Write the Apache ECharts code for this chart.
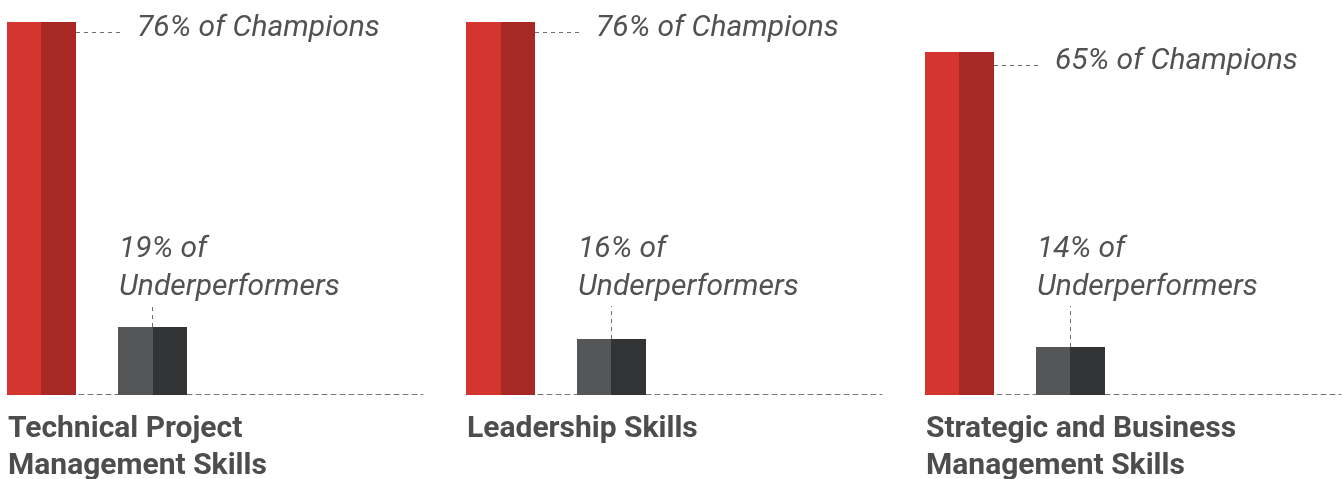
<!DOCTYPE html>
<html>
<head>
<meta charset="utf-8">
<script src="https://cdn.jsdelivr.net/npm/echarts@6/dist/echarts.min.js"></script>
<style>
  html, body { margin: 0; padding: 0; background: #ffffff; }
  #chart { width: 1343px; height: 479px; }
</style>
</head>
<body>
<div id="chart"></div>
<script>
// ---- data ----
const skills = ['Technical Project\nManagement Skills', 'Leadership Skills', 'Strategic and Business\nManagement Skills'];
const groups = ['Champions', 'Underperformers'];
const champions = [76, 76, 65];
const underperformers = [19, 16, 14];

// ---- layout (pixels / axis ranges) ----
const panelLeft = [7, 466, 925];       // left edge of each panel
const barGridTop = [22, 22, 52];
const yMin = [6.3, 5.4, 5.7];
const champLabelDy = [-1, -1, 2];
const baselineY = 394;
const BAR_W = 69, BAR_GAP = 42;

const RED = { type: 'linear', x: 0, y: 0, x2: 1, y2: 0, colorStops: [
  { offset: 0, color: '#d4352f' }, { offset: 0.5, color: '#d4352f' },
  { offset: 0.5, color: '#a72825' }, { offset: 1, color: '#a72825' }] };
const GRAY = { type: 'linear', x: 0, y: 0, x2: 1, y2: 0, colorStops: [
  { offset: 0, color: '#555658' }, { offset: 0.5, color: '#555658' },
  { offset: 0.5, color: '#323335' }, { offset: 1, color: '#323335' }] };
const LEADER = { color: '#6e6e6e', width: 1, type: [4, 4] };
const FONT = 'Roboto, "Noto Sans", sans-serif';
const LABEL_FONT = { fontFamily: FONT, fontStyle: 'italic', fontSize: 30, lineHeight: 38, color: '#525252' };

const grid = [], xAxis = [], yAxis = [], series = [], title = [];

skills.forEach((name, i) => {
  const left = panelLeft[i];
  grid.push({ left: left, width: BAR_W * 2 + BAR_GAP, top: barGridTop[i], bottom: 479 - baselineY - 1 });
  xAxis.push({ gridIndex: i, type: 'category', data: [name], show: false });
  yAxis.push({ gridIndex: i, type: 'value', min: yMin[i], max: 'dataMax', show: false });

  // Champions bar with horizontal leader to the right
  series.push({
    name: groups[0],
    type: 'bar',
    xAxisIndex: i, yAxisIndex: i,
    barWidth: BAR_W, barGap: (BAR_GAP / BAR_W * 100) + '%',
    animation: false,
    itemStyle: { color: RED },
    data: [champions[i]],
    label: Object.assign({
      show: true,
      formatter: '{c}% of ' + groups[0],
      padding: [0, 0, 9, 17],
      backgroundColor: 'transparent'
    }, LABEL_FONT),
    labelLine: { show: true, lineStyle: LEADER },
    labelLayout: function (p) {
      const r = p.rect;
      return { x: r.x + r.width + 44, y: r.y - 12 + champLabelDy[i], align: 'left', verticalAlign: 'top' };
    }
  });

  // Underperformers bar with vertical leader up to its label
  series.push({
    name: groups[1],
    type: 'bar',
    xAxisIndex: i, yAxisIndex: i,
    barWidth: BAR_W, barGap: (BAR_GAP / BAR_W * 100) + '%',
    animation: false,
    itemStyle: { color: GRAY },
    data: [underperformers[i]],
    label: Object.assign({
      show: true,
      formatter: '{c}% of\n' + groups[1],
      // transparent box symmetric around the bar centre, so the leader is vertical
      width: 240,
      padding: [0, 0, 0, 173],
      backgroundColor: 'transparent'
    }, LABEL_FONT),
    labelLine: { show: true, lineStyle: LEADER },
    labelLayout: function (p) {
      const r = p.rect;
      return { x: r.x + 1 - 173, y: 230, align: 'left', verticalAlign: 'top' };
    }
  });

  title.push({
    text: name,
    left: left + 1, top: 411, padding: 0,
    textStyle: { fontFamily: FONT, fontWeight: 'bold', fontSize: 30, lineHeight: 37, color: '#4d4d4d' }
  });
});

// baseline grids (dashed axis lines)
skills.forEach((name, i) => {
  const gi = skills.length + i;
  grid.push({ left: panelLeft[i], width: 416, top: 0, bottom: 479 - baselineY });
  xAxis.push({
    gridIndex: gi, type: 'value', min: 0, max: 1,
    axisLine: { show: true, onZero: false, lineStyle: { color: '#777777', width: 1, type: [5, 4] } },
    axisTick: { show: false }, axisLabel: { show: false }, splitLine: { show: false }
  });
  yAxis.push({ gridIndex: gi, type: 'value', show: false, min: 0, max: 1 });
});

const chart = echarts.init(document.getElementById('chart'), null, { renderer: 'canvas' });
chart.setOption({
  animation: false,
  backgroundColor: '#ffffff',
  title: title,
  grid: grid,
  xAxis: xAxis,
  yAxis: yAxis,
  series: series
});
</script>
</body>
</html>
